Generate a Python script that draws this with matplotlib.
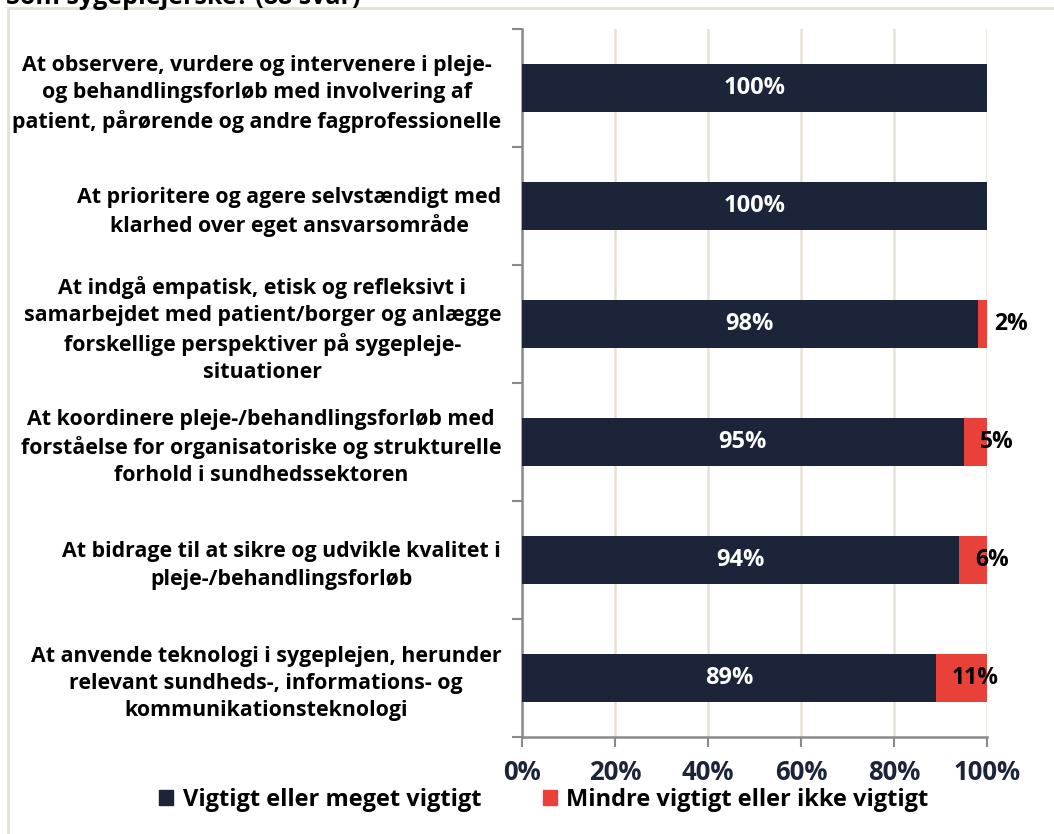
import matplotlib
matplotlib.use("Agg")
import matplotlib.pyplot as plt
from matplotlib.lines import Line2D
from matplotlib.patches import Patch
import numpy as np

# data
categories = [
    "At observere, vurdere og intervenere i pleje-\nog behandlingsforløb med involvering af\npatient, pårørende og andre fagprofessionelle",
    "At prioritere og agere selvstændigt med\nklarhed over eget ansvarsområde",
    "At indgå empatisk, etisk og refleksivt i\nsamarbejdet med patient/borger og anlægge\nforskellige perspektiver på sygepleje-\nsituationer",
    "At koordinere pleje-/behandlingsforløb med\nforståelse for organisatoriske og strukturelle\nforhold i sundhedssektoren",
    "At bidrage til at sikre og udvikle kvalitet i\npleje-/behandlingsforløb",
    "At anvende teknologi i sygeplejen, herunder\nrelevant sundheds-, informations- og\nkommunikationsteknologi",
]
vigtigt = [100, 100, 98, 95, 94, 89]
mindre = [0, 0, 2, 5, 6, 11]
series_names = ["Vigtigt eller meget vigtigt", "Mindre vigtigt eller ikke vigtigt"]
xticks = [0, 20, 40, 60, 80, 100]
title = "Som sygeplejerske? (88 svar)"

NAVY = "#1b2438"
RED = "#e8413a"
GRID = "#e6e1d6"
FONT = "Open Sans"

plt.rcParams["font.family"] = [FONT, "DejaVu Sans"]
plt.rcParams["font.weight"] = "bold"

fig = plt.figure(figsize=(10.54, 8.34), dpi=100)
ax = fig.add_axes([522 / 1054, 1 - 737 / 834, 465 / 1054, (737 - 29) / 834])

y = np.arange(len(categories))
ax.barh(y, vigtigt, height=0.4, color=NAVY, zorder=3)
ax.barh(y, mindre, left=vigtigt, height=0.4, color=RED, zorder=3)

for yi, v, m in zip(y, vigtigt, mindre):
    ax.text(v / 2, yi, f"{v}%", ha="center", va="center", color="white",
            fontsize=17, fontweight="bold", zorder=4)
    if m > 0:
        ax.text(v + 3.5, yi, f"{m}%", ha="left", va="center", color="black",
                fontsize=16.5, fontweight="bold", zorder=4)

ax.set_xlim(0, 100)
ax.set_ylim(len(categories) - 0.5, -0.5)
ax.set_xticks(xticks)
ax.set_xticklabels([f"{t}%" for t in xticks], fontsize=18.5, fontweight="bold", color=NAVY)
ax.tick_params(axis="x", length=7, width=1.5, color="#8a8a8a", pad=9)
ax.xaxis.grid(True, color=GRID, linewidth=1.8, zorder=0)

ax.set_yticks(y)
ax.set_yticklabels(categories, fontsize=15.4, fontweight="bold", color="black",
                   multialignment="center", linespacing=1.38)
ax.set_yticks(np.arange(len(categories) + 1) - 0.5, minor=True)
ax.tick_params(axis="y", which="major", length=0, pad=15)
ax.tick_params(axis="y", which="minor", length=7, width=1.5, color="#8a8a8a")

for side in ["top", "right"]:
    ax.spines[side].set_visible(False)
for side in ["left", "bottom"]:
    ax.spines[side].set_color("#8a8a8a")
    ax.spines[side].set_linewidth(1.8)

# frame of the original image box
fig.add_artist(Line2D([8 / 1054, 1], [1 - 8 / 834] * 2, color=GRID, linewidth=2))
fig.add_artist(Line2D([8 / 1054] * 2, [0, 1 - 8 / 834], color=GRID, linewidth=2))

# title, cut off at the top
fig.text(6 / 1054, 1 - 4 / 834, title, ha="left", va="baseline",
         fontsize=18, fontweight="bold", color="black")

handles = [Patch(color=NAVY), Patch(color=RED)]
fig.legend(handles, series_names, loc="center", bbox_to_anchor=(544 / 1054, 1 - 800 / 834),
           ncol=2, frameon=False, handlelength=0.6, handleheight=0.6, handletextpad=0.4,
           columnspacing=2.6, prop={"family": FONT, "weight": "bold", "size": 17})

fig.savefig("out.png", dpi=100)
